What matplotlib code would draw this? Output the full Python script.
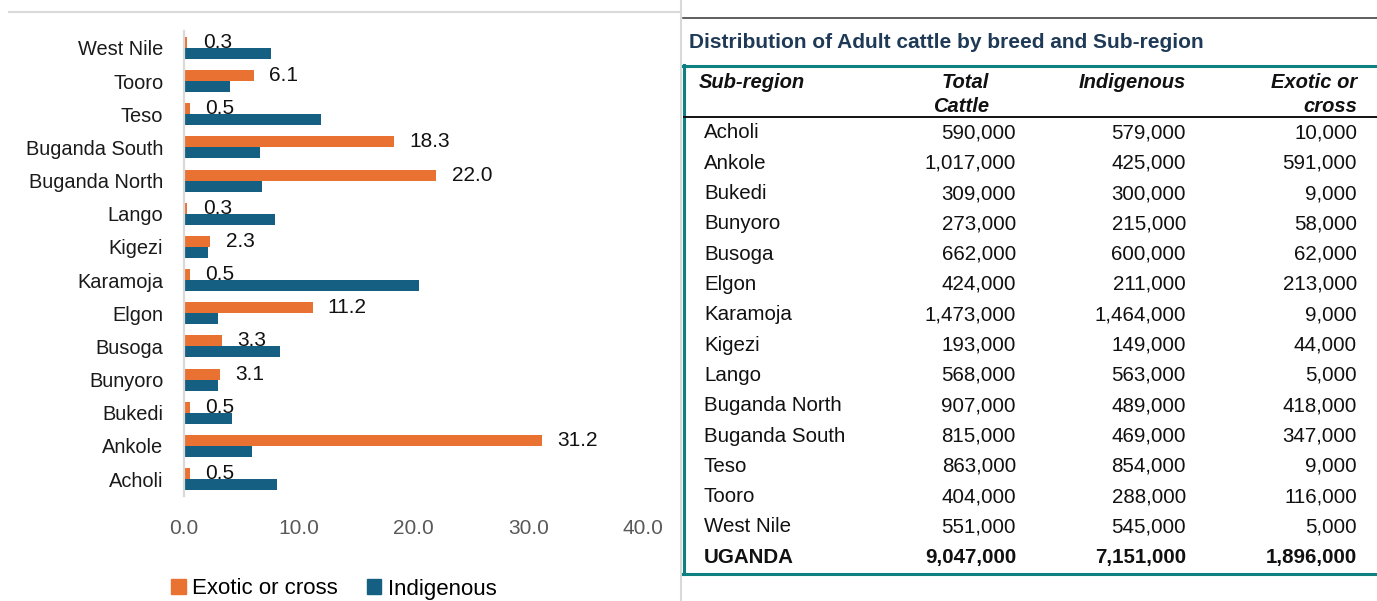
import matplotlib
matplotlib.use("Agg")
import matplotlib.pyplot as plt
from matplotlib import font_manager
from matplotlib.lines import Line2D
from matplotlib.patches import Patch
import numpy as np

# --- data ---
regions = ['Acholi', 'Ankole', 'Bukedi', 'Bunyoro', 'Busoga', 'Elgon', 'Karamoja',
           'Kigezi', 'Lango', 'Buganda North', 'Buganda South', 'Teso', 'Tooro', 'West Nile']
exotic_pct = [0.5, 31.2, 0.5, 3.1, 3.3, 11.2, 0.5, 2.3, 0.3, 22.0, 18.3, 0.5, 6.1, 0.3]
indig_pct = [8.1, 5.9, 4.2, 3.0, 8.4, 3.0, 20.5, 2.1, 7.9, 6.8, 6.6, 11.9, 4.0, 7.6]
xticks = [0, 10, 20, 30, 40]

total_cattle = ['590,000', '1,017,000', '309,000', '273,000', '662,000', '424,000', '1,473,000',
                '193,000', '568,000', '907,000', '815,000', '863,000', '404,000', '551,000']
indig_cattle = ['579,000', '425,000', '300,000', '215,000', '600,000', '211,000', '1,464,000',
                '149,000', '563,000', '489,000', '469,000', '854,000', '288,000', '545,000']
exotic_cattle = ['10,000', '591,000', '9,000', '58,000', '62,000', '213,000', '9,000',
                 '44,000', '5,000', '418,000', '347,000', '9,000', '116,000', '5,000']
uganda_row = ['UGANDA', '9,047,000', '7,151,000', '1,896,000']

ORANGE = '#E97132'
BLUE = '#156082'
TEAL = '#0E807F'

W, H = 1377, 601
installed = {f.name for f in font_manager.fontManager.ttflist}
narrow = 'Liberation Sans Narrow' if 'Liberation Sans Narrow' in installed else 'Liberation Sans'
plt.rcParams['font.family'] = ['Liberation Sans', 'DejaVu Sans']


def fx(px):
    return px / W


def fy(py):
    return 1 - py / H


fig = plt.figure(figsize=(W / 100, H / 100), dpi=100)

# --- left: bar chart ---
ax = fig.add_axes([fx(184), fy(495.6), fx(643) - fx(184), fy(31.4) - fy(495.6)])
y = np.arange(len(regions))
bh = 0.332
b1 = ax.barh(y + bh / 2, exotic_pct, height=bh, color=ORANGE, label='Exotic or cross')
b2 = ax.barh(y - bh / 2, indig_pct, height=bh, color=BLUE, label='Indigenous')
ax.bar_label(b1, fmt='%.1f', padding=11, fontsize=15, color='#111111', family=narrow)

ax.set_xlim(0, 40)
ax.set_ylim(-0.5, len(regions) - 0.5)
ax.set_xticks(xticks)
ax.set_xticklabels(['%.1f' % v for v in xticks], fontsize=15, color='#595959', family=narrow)
ax.set_yticks(y)
ax.set_yticklabels(regions, fontsize=15 if narrow != 'Liberation Sans' else 14.4,
                   color='#1a1a1a', family=narrow)
ax.tick_params(axis='both', length=0)
ax.tick_params(axis='x', pad=17)
ax.tick_params(axis='y', pad=15)
for s in ['top', 'right', 'bottom']:
    ax.spines[s].set_visible(False)
ax.spines['left'].set_color('#d9d9d9')
ax.spines['left'].set_linewidth(1.6)

fig.legend(handles=[Patch(color=ORANGE), Patch(color=BLUE)],
           labels=['Exotic or cross', 'Indigenous'],
           loc='center', bbox_to_anchor=(fx(334), fy(589)), ncol=2, frameon=False,
           prop={'family': narrow, 'size': 16}, handlelength=0.65, handleheight=0.65,
           handletextpad=0.3, columnspacing=1.3)

# --- frame lines ---
fig.add_artist(Line2D([fx(9), fx(681)], [fy(12), fy(12)], color='#d9d9d9', lw=1.5))
fig.add_artist(Line2D([fx(681), fx(681)], [0, 1], color='#d9d9d9', lw=1.5))
fig.add_artist(Line2D([fx(683), 1], [fy(18), fy(18)], color='#333333', lw=1.1))

# --- right: table ---
fig.text(fx(689), fy(43), 'Distribution of Adult cattle by breed and Sub-region',
         fontsize=15, weight='bold', color='#1f3a57', va='center')

fig.add_artist(Line2D([fx(683), 1], [fy(65.5), fy(65.5)], color=TEAL, lw=2.2))
fig.add_artist(Line2D([fx(683), 1], [fy(573.5), fy(573.5)], color=TEAL, lw=2.2))
fig.add_artist(Line2D([fx(684), fx(684)], [fy(65), fy(574)], color=TEAL, lw=2.2))
fig.add_artist(Line2D([fx(684), 1], [fy(117), fy(117)], color='#111111', lw=1.4))

hdr = dict(fontsize=14.5, weight='bold', style='italic', color='#111111', va='center')
fig.text(fx(699), fy(83), 'Sub-region', ha='left', **hdr)
fig.text(fx(989), fy(83), 'Total', ha='right', **hdr)
fig.text(fx(989), fy(106.5), 'Cattle', ha='right', **hdr)
fig.text(fx(1186), fy(83), 'Indigenous', ha='right', **hdr)
fig.text(fx(1357), fy(83), 'Exotic or', ha='right', **hdr)
fig.text(fx(1357), fy(106.5), 'cross', ha='right', **hdr)

col_x = [1016, 1186, 1357]
row_h = 30.3
cell = dict(fontsize=14.8, color='#111111', va='center')
for i, name in enumerate(regions):
    ry = 133 + i * row_h
    fig.text(fx(704), fy(ry), name, ha='left', **cell)
    for cx, val in zip(col_x, [total_cattle[i], indig_cattle[i], exotic_cattle[i]]):
        fig.text(fx(cx), fy(ry), val, ha='right', **cell)

ry = 133 + len(regions) * row_h
fig.text(fx(704), fy(ry), uganda_row[0], ha='left', weight='bold', **cell)
for cx, val in zip(col_x, uganda_row[1:]):
    fig.text(fx(cx), fy(ry), val, ha='right', weight='bold', **cell)

fig.savefig('out.png', dpi=100)
